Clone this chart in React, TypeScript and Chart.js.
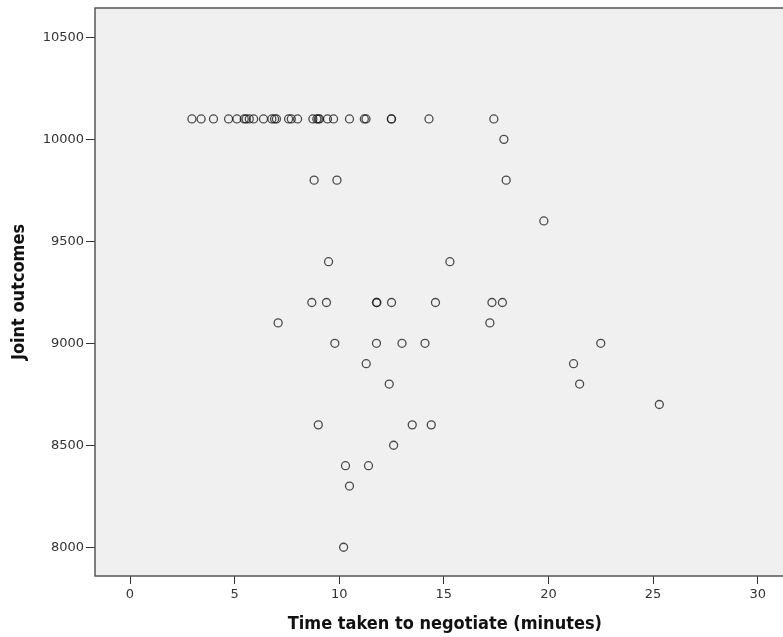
import React, { useEffect, useRef } from "react";
import { Chart, registerables } from "chart.js";

Chart.register(...registerables);

// Time taken to negotiate (minutes)
const times: number[] = [
  2.96, 3.4, 3.99, 4.71, 5.11, 5.46, 5.55, 5.7, 5.91, 6.38, 6.78, 6.91, 7.0, 7.58, 7.71,
  8.01, 8.74, 8.93, 9.0, 9.06, 9.44, 9.73, 10.49, 11.2, 11.28, 12.49, 12.5, 14.29, 17.39,
  17.87,
  8.8, 9.89, 17.98,
  19.78,
  9.49, 15.29,
  8.69, 9.39, 11.78, 11.8, 12.5, 14.6, 17.3, 17.8,
  7.08, 17.2,
  9.79, 11.78, 13.0, 14.1, 22.5,
  11.29, 21.2,
  12.39, 21.49,
  25.3,
  9.0, 13.49, 14.4,
  12.6,
  10.3, 11.4,
  10.49,
  10.21,
];

// Joint outcomes
const outcomes: number[] = [
  10100, 10100, 10100, 10100, 10100, 10100, 10100, 10100, 10100, 10100, 10100, 10100, 10100, 10100, 10100,
  10100, 10100, 10100, 10100, 10100, 10100, 10100, 10100, 10100, 10100, 10100, 10100, 10100, 10100,
  10000,
  9800, 9800, 9800,
  9600,
  9400, 9400,
  9200, 9200, 9200, 9200, 9200, 9200, 9200, 9200,
  9100, 9100,
  9000, 9000, 9000, 9000, 9000,
  8900, 8900,
  8800, 8800,
  8700,
  8600, 8600, 8600,
  8500,
  8400, 8400,
  8300,
  8000,
];

const xTicks: number[] = [0, 5, 10, 15, 20, 25, 30];
const yTicks: number[] = [8000, 8500, 9000, 9500, 10000, 10500];

const xTitle = "Time taken to negotiate (minutes)";
const yTitle = "Joint outcomes";

const framePlugin = {
  id: "spssFrame",
  beforeDatasetsDraw(chart: any) {
    const { ctx, chartArea } = chart;
    const { left, top, right, bottom } = chartArea;
    ctx.save();
    ctx.fillStyle = "#f0f0f0";
    ctx.fillRect(left, top, right - left, bottom - top);
    ctx.restore();
  },
  afterDatasetsDraw(chart: any) {
    const { ctx, chartArea } = chart;
    const { left, top, right, bottom } = chartArea;
    ctx.save();
    ctx.strokeStyle = "#555";
    ctx.lineWidth = 1.5;
    ctx.beginPath();
    ctx.moveTo(right, top);
    ctx.lineTo(left, top);
    ctx.lineTo(left, bottom);
    ctx.lineTo(right, bottom);
    ctx.lineTo(right, top);
    ctx.stroke();
    ctx.restore();
  },
};

export default function App() {
  const ref = useRef<HTMLCanvasElement | null>(null);

  useEffect(() => {
    if (!ref.current) return;
    const data = times.map((t, i) => ({ x: t, y: outcomes[i] }));
    const chart = new Chart(ref.current, {
      type: "scatter",
      data: {
        datasets: [
          {
            data,
            pointStyle: "circle",
            pointRadius: 4,
            pointBorderWidth: 1.3,
            pointBorderColor: "rgba(20,20,20,0.75)",
            pointBackgroundColor: "rgba(0,0,0,0)",
            pointHoverRadius: 4,
          },
        ],
      },
      options: {
        animation: false,
        responsive: false,
        devicePixelRatio: 1,
        layout: { padding: { top: 8, left: 0, right: 3, bottom: 0 } },
        plugins: {
          legend: { display: false },
          tooltip: { enabled: false },
        },
        scales: {
          x: {
            type: "linear",
            min: -1.673,
            max: 31.77,
            afterBuildTicks: (scale: any) => {
              scale.ticks = xTicks.map((v) => ({ value: v }));
            },
            afterFit: (scale: any) => {
              scale.height = 61;
              scale.paddingLeft = 0;
              scale.paddingRight = 0;
            },
            border: { display: false },
            grid: {
              drawOnChartArea: false,
              drawTicks: true,
              tickLength: 8,
              tickWidth: 1,
              tickColor: "#333",
            },
            ticks: {
              padding: 3,
              color: "#333",
              font: { family: "DejaVu Sans", size: 13 },
              callback: (v: any) => String(v),
            },
            title: {
              display: true,
              text: xTitle,
              color: "#111",
              font: { family: "DejaVu Sans Condensed", size: 18, weight: "bold" },
              padding: { top: 0, bottom: 2 },
            },
          },
          y: {
            type: "linear",
            min: 7859,
            max: 10644,
            afterBuildTicks: (scale: any) => {
              scale.ticks = yTicks.map((v) => ({ value: v }));
            },
            afterFit: (scale: any) => {
              scale.width = 95;
              scale.paddingTop = 0;
              scale.paddingBottom = 0;
            },
            border: { display: false },
            grid: {
              drawOnChartArea: false,
              drawTicks: true,
              tickLength: 9,
              tickWidth: 1,
              tickColor: "#333",
            },
            ticks: {
              padding: 2,
              color: "#333",
              font: { family: "DejaVu Sans", size: 13 },
              callback: (v: any) => String(v),
            },
            title: {
              display: true,
              text: yTitle,
              color: "#111",
              font: { family: "DejaVu Sans Condensed", size: 18, weight: "bold" },
              padding: { top: 9, bottom: 0 },
            },
          },
        },
      },
      plugins: [framePlugin],
    });
    return () => chart.destroy();
  }, []);

  return (
    <div style={{ position: "fixed", left: 0, top: 0, width: 800, height: 637, background: "#fff", overflow: "hidden" }}>
      <canvas ref={ref} width={800} height={637} style={{ display: "block", width: 800, height: 637 }} />
    </div>
  );
}
